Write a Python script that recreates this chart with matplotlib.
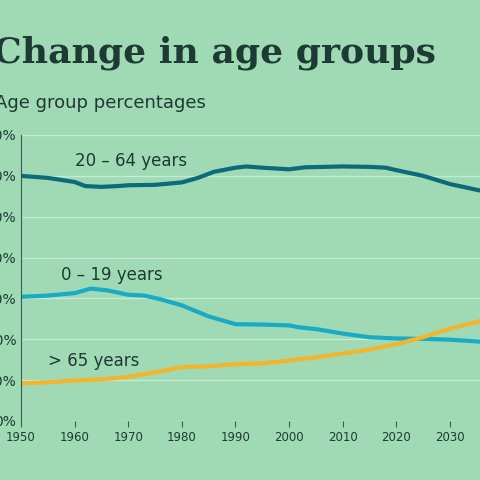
import matplotlib.pyplot as plt

years_a = [1950, 1955, 1960, 1962, 1965, 1968, 1970, 1975, 1980, 1983, 1986, 1990, 1992, 1995, 2000, 2003, 2010, 2015, 2018, 2020, 2025, 2030, 2036]
adults = [60.0, 59.5, 58.5, 57.5, 57.3, 57.5, 57.7, 57.8, 58.4, 59.5, 61.0, 62.0, 62.3, 62.0, 61.6, 62.1, 62.3, 62.2, 62.0, 61.4, 60.0, 58.0, 56.3]
years_y = [1950, 1955, 1960, 1963, 1966, 1970, 1973, 1976, 1980, 1985, 1990, 1995, 2000, 2002, 2005, 2010, 2015, 2020, 2025, 2030, 2036]
young = [30.4, 30.7, 31.3, 32.4, 32.0, 30.9, 30.7, 29.8, 28.3, 25.6, 23.7, 23.6, 23.4, 22.9, 22.5, 21.4, 20.5, 20.2, 20.1, 19.9, 19.4]
years_o = [1950, 1955, 1960, 1965, 1970, 1975, 1980, 1985, 1990, 1995, 2000, 2005, 2010, 2015, 2020, 2025, 2030, 2036]
old = [9.2, 9.5, 9.9, 10.2, 10.8, 11.9, 13.2, 13.4, 13.9, 14.1, 14.8, 15.6, 16.5, 17.5, 18.8, 20.5, 22.6, 24.6]
yticks = [0, 10, 20, 30, 40, 50, 60, 70]
xticks = [1950, 1960, 1970, 1980, 1990, 2000, 2010, 2020, 2030]

bg = '#9fdab4'
txt = '#1e3a34'
fig = plt.figure(figsize=(4.8, 4.8), dpi=100, facecolor=bg)
ax = fig.add_axes([21/480, 1 - 421/480, 1 - 21/480 + 0.01, (421 - 135)/480])
ax.set_facecolor(bg)
ax.plot(years_a, adults, color='#0d6a78', lw=3)
ax.plot(years_y, young, color='#19abc6', lw=3)
ax.plot(years_o, old, color='#f2b52c', lw=3)
ax.set_ylim(0, 70)
ax.set_xlim(1950, 2036.5)
ax.set_yticks(yticks)
ax.set_yticklabels([f'{v}%' for v in yticks])
ax.set_xticks(xticks)
ax.grid(axis='y', color='#c4ecd2', lw=1)
for s in ['top', 'right', 'bottom']:
    ax.spines[s].set_visible(False)
ax.spines['left'].set_color('#3c5a50')
ax.tick_params(axis='y', length=0, labelsize=10, colors=txt)
ax.tick_params(axis='x', length=4, color='#3c5a50', labelsize=8.5, colors=txt)
ax.text(1960, 62.5, '20 – 64 years', fontsize=12, color=txt)
ax.text(1957.5, 34.5, '0 – 19 years', fontsize=12, color=txt)
ax.text(1955, 13.5, '> 65 years', fontsize=12, color=txt)

fig.text(-0.015, 0.87, 'Change in age groups', fontsize=26, fontweight='bold',
         family='DejaVu Serif', color=txt)
fig.text(-0.01, 0.775, 'Age group percentages', fontsize=13, color=txt)
fig.savefig('out.png', dpi=100, facecolor=bg)
